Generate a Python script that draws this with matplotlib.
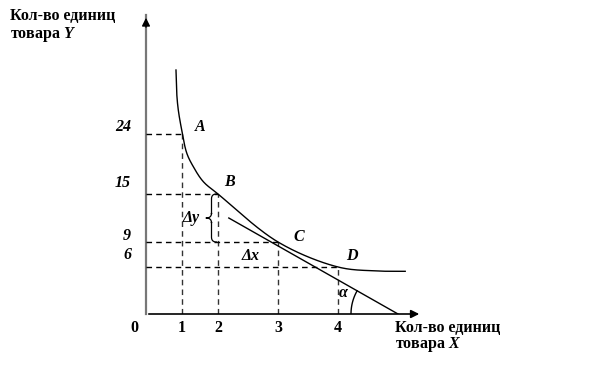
import numpy as np
import matplotlib.pyplot as plt

plt.rcParams['font.family'] = ['Liberation Serif', 'DejaVu Serif']
plt.rcParams['font.weight'] = 'bold'
plt.rcParams['mathtext.fontset'] = 'custom'
plt.rcParams['mathtext.it'] = 'Liberation Serif:bold:italic'
plt.rcParams['mathtext.rm'] = 'Liberation Serif:bold'

# values on the axes
x_ticks = [0, 1, 2, 3, 4]
y_ticks = [24, 15, 9, 6]

# points on the indifference curve
point_names = ['A', 'B', 'C', 'D']
point_x = [1, 2, 3, 4]
point_y = [24, 15, 9, 6]

# nodes of the curve (upper end ... flat right tail)
curve_x = [0.833, 0.853, 0.897, 0.992, 1.131, 1.314, 1.592, 2, 3, 4, 4.63, 5.12]
curve_y = [33.6, 30.15, 27.6, 24.6, 21.15, 19.1, 16.85, 15, 9, 6, 5.5, 5.45]

# tangent at C
tangent_x = [2.18, 5.0]
tangent_y = [12, 0]

# the picture is a sketch, axis spacing is not uniform
XV = [0, 1, 2, 3, 4, 8]
XP = [0, 36, 72, 132, 192, 432]
YV = [0, 6, 9, 15, 24, 50]
YP = [0, 47, 72, 120, 180, 353.3]


def fx(v):
    return np.interp(v, XV, XP)


def ix(p):
    return np.interp(p, XP, XV)


def fy(v):
    return np.interp(v, YV, YP)


def iy(p):
    return np.interp(p, YP, YV)


def catmull(P, n=40):
    # centripetal catmull-rom through the nodes
    P = np.vstack([2 * P[0] - P[1], P, 2 * P[-1] - P[-2]])
    out = []
    for i in range(1, len(P) - 2):
        p0, p1, p2, p3 = P[i - 1:i + 3]
        t0 = 0
        t1 = t0 + np.linalg.norm(p1 - p0) ** 0.5
        t2 = t1 + np.linalg.norm(p2 - p1) ** 0.5
        t3 = t2 + np.linalg.norm(p3 - p2) ** 0.5
        t = np.linspace(t1, t2, n)[:, None]
        A1 = (t1 - t) / (t1 - t0) * p0 + (t - t0) / (t1 - t0) * p1
        A2 = (t2 - t) / (t2 - t1) * p1 + (t - t1) / (t2 - t1) * p2
        A3 = (t3 - t) / (t3 - t2) * p2 + (t - t2) / (t3 - t2) * p3
        B1 = (t2 - t) / (t2 - t0) * A1 + (t - t0) / (t2 - t0) * A2
        B2 = (t3 - t) / (t3 - t1) * A2 + (t - t1) / (t3 - t1) * A3
        out.append((t2 - t) / (t2 - t1) * B1 + (t - t1) / (t2 - t1) * B2)
    return np.vstack(out)


def qbez(a, c, b, n=20):
    t = np.linspace(0, 1, n)[:, None]
    return (1 - t) ** 2 * np.array(a) + 2 * t * (1 - t) * np.array(c) + t ** 2 * np.array(b)


fig = plt.figure(figsize=(6.14, 3.74), dpi=100)
ax = fig.add_axes([146 / 614, 60 / 374, 276 / 614, 299 / 374])
ax.set_xscale('function', functions=(fx, ix))
ax.set_yscale('function', functions=(fy, iy))
ax.set_xlim(0, ix(276))
ax.set_ylim(0, iy(299))
ax.axis('off')

# axes with arrows
ax.plot([0, 0], [0, iy(299)], color='#777777', lw=1.6, clip_on=False)
ax.annotate('', xy=(0, 1), xycoords='axes fraction', xytext=(0, 0.95),
            arrowprops=dict(arrowstyle='-|>', color='black', lw=1, mutation_scale=12))
ax.annotate('', xy=(1, 0), xycoords='axes fraction', xytext=(0, 0),
            arrowprops=dict(arrowstyle='-|>', color='black', lw=1.2, mutation_scale=12))

# dashed guides
dash = (0, (4, 3))
for x, y in zip(point_x, point_y):
    ax.plot([0, x], [y, y], color='black', lw=1, ls=dash)
    ax.plot([x, x], [0, y], color='#333333', lw=1, ls=dash)

# indifference curve
nodes = np.column_stack([fx(np.array(curve_x)), fy(np.array(curve_y))])
cv = catmull(nodes)
ax.plot(ix(cv[:, 0]), iy(cv[:, 1]), color='black', lw=1)

# tangent line
ax.plot(tangent_x, tangent_y, color='black', lw=1)

# angle arc at the x intercept
cx, cy = fx(tangent_x[1]), fy(tangent_y[1])
ang = np.degrees(np.arctan2(fy(tangent_y[0]) - cy, fx(tangent_x[0]) - cx))
th = np.radians(np.linspace(180, ang, 40))
ax.plot(ix(cx + 47 * np.cos(th)), iy(cy + 47 * np.sin(th)), color='black', lw=1)

# brace for delta y
xb = fx(point_x[1]) - 1.5
yt, yb = fy(point_y[1]), fy(point_y[2])
ym = (yt + yb) / 2
br = np.vstack([
    qbez((xb, yt), (xb - 5, yt), (xb - 5, yt - 5)),
    qbez((xb - 5, yt - 5), (xb - 5, ym), (xb - 5, ym + 5)),
    qbez((xb - 5, ym + 5), (xb - 5, ym), (xb - 10.5, ym)),
    qbez((xb - 10.5, ym), (xb - 5, ym), (xb - 5, ym - 5)),
    qbez((xb - 5, ym - 5), (xb - 5, ym), (xb - 5, yb + 5)),
    qbez((xb - 5, yb + 5), (xb - 5, yb), (xb, yb)),
])
ax.plot(ix(br[:, 0]), iy(br[:, 1]), color='black', lw=0.9)

fs = 11.5
bi = dict(fontsize=fs, fontweight='bold', fontstyle='italic')

# point labels
offs = [(13, 7), (6, 12), (15, 5), (8, 11)]
for name, x, y, o in zip(point_names, point_x, point_y, offs):
    ax.annotate(name, (x, y), xytext=o, textcoords='offset pixels',
                ha='left', va='center', **bi)

# tick labels
for x in x_ticks:
    ax.annotate(str(x), (x, 0), xytext=(-12 if x == 0 else 0, -14),
                textcoords='offset pixels', ha='center', va='center',
                fontsize=fs, fontweight='bold', annotation_clip=False)
yoffs = [7, 11, 6, 12]
for y, o in zip(y_ticks, yoffs):
    ax.annotate(str(y), (0, y), xytext=(-15, o), textcoords='offset pixels',
                ha='right', va='center', annotation_clip=False, **bi)

# delta labels
ax.annotate('Δy', (ix((fx(0) + fx(2)) / 2 + 9), (point_y[1] + point_y[2]) / 2),
            xytext=(0, 0), textcoords='offset pixels', ha='center', va='center', **bi)
ax.annotate('Δx', ((point_x[1] + point_x[2]) / 2, point_y[2]), xytext=(3, -14),
            textcoords='offset pixels', ha='center', va='center', **bi)
ax.annotate('α', (tangent_x[1], 0), xytext=(-55, 21), textcoords='offset pixels',
            ha='center', va='center', **bi)


# axis titles
def fig_text(px, py, s):
    fig.text(px / 614, 1 - py / 374, s, ha='left', va='center',
             fontsize=fs, fontweight='bold')


fig_text(10, 16, 'Кол-во единиц')
fig_text(10, 34, 'товара $Y$')
fig_text(395, 328, 'Кол-во единиц')
fig_text(395, 344, 'товара $X$')

fig.savefig('out.png', dpi=100)
